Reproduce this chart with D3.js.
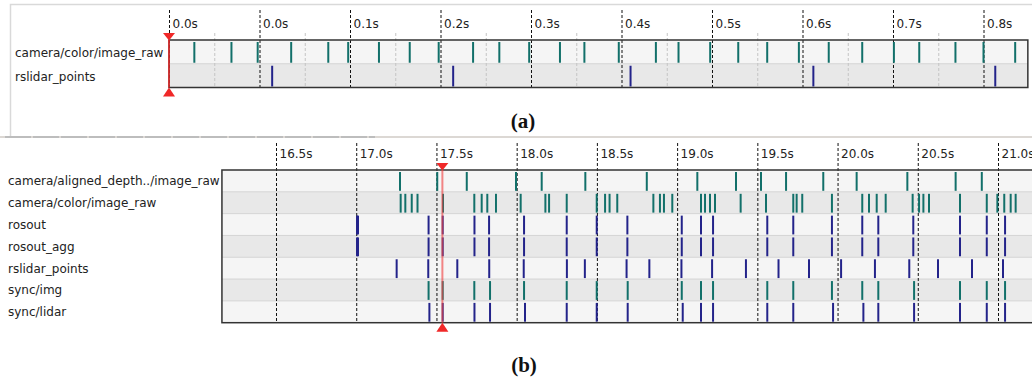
<!DOCTYPE html>
<html>
<head>
<meta charset="utf-8">
<script src="https://cdn.jsdelivr.net/npm/d3@7"></script>
<style>
  body { margin: 0; background: #fff; }
  svg { display: block; font-family: "DejaVu Sans", sans-serif; }
</style>
</head>
<body>
<svg id="chart" width="1032" height="385"></svg>
<script>
// ---- panel (a): short window at the start of the bag ----
const topicsA = ["camera/color/image_raw", "rslidar_points"];
const tickTimesA = [0, 0.1, 0.2, 0.3, 0.4, 0.5, 0.6, 0.7, 0.8, 0.9];
const tickLabelsA = ["0.0s", "0.0s", "0.1s", "0.2s", "0.3s", "0.4s", "0.5s", "0.6s", "0.7s", "0.8s"];
const minorTimesA = [0.05, 0.15, 0.25, 0.35, 0.45, 0.55, 0.65, 0.75, 0.85];
const colorTimesA = [0.028, 0.069, 0.098, 0.135, 0.176, 0.198, 0.232, 0.266, 0.298, 0.336,
  0.365, 0.398, 0.432, 0.459, 0.497, 0.538, 0.563, 0.598, 0.629, 0.661, 0.696, 0.729,
  0.766, 0.801, 0.829, 0.869, 0.900, 0.935];
const lidarTimesA = [0.114, 0.314, 0.510, 0.712, 0.913];
const playheadA = 0;

// ---- panel (b): 16.5s .. 21s ----
const topicsB = ["camera/aligned_depth../image_raw", "camera/color/image_raw", "rosout",
  "rosout_agg", "rslidar_points", "sync/img", "sync/lidar"];
const tickTimesB = [16.5, 17.0, 17.5, 18.0, 18.5, 19.0, 19.5, 20.0, 20.5, 21.0];
const tickLabelsB = ["16.5s", "17.0s", "17.5s", "18.0s", "18.5s", "19.0s", "19.5s", "20.0s", "20.5s", "21.0s"];
const depthTimesB = [17.273, 17.505, 17.689, 17.996, 18.156, 18.428, 18.811, 19.126, 19.367,
  19.523, 19.679, 19.911, 20.119, 20.435, 20.736, 20.899];
const colorTimesB = [17.277, 17.306, 17.346, 17.382, 17.541, 17.736, 17.782, 17.817, 17.871,
  18.025, 18.179, 18.202, 18.312, 18.499, 18.551, 18.579, 18.627, 18.852, 18.893, 18.918,
  18.970, 19.149, 19.174, 19.205, 19.236, 19.396, 19.554, 19.724, 19.745, 19.780, 19.965,
  20.154, 20.196, 20.244, 20.300, 20.468, 20.508, 20.535, 20.570, 20.763, 20.930, 20.996,
  21.039, 21.079, 21.110];
const rosoutTimesB = [17.005, 17.011, 17.451, 17.539, 17.737, 17.828, 18.046, 18.312, 18.499,
  18.690, 19.029, 19.149, 19.224, 19.562, 19.724, 19.965, 20.154, 20.254, 20.472, 20.763,
  20.930, 21.044];
const rosoutAggTimesB = [17.005, 17.011, 17.451, 17.539, 17.737, 17.828, 18.046, 18.312, 18.499,
  18.690, 19.029, 19.149, 19.224, 19.562, 19.724, 19.965, 20.154, 20.254, 20.472, 20.763,
  20.930, 21.044];
const lidarTimesB = [17.252, 17.449, 17.630, 17.829, 18.044, 18.313, 18.425, 18.685, 18.827,
  19.027, 19.218, 19.429, 19.632, 19.822, 20.022, 20.233, 20.447, 20.626, 20.838, 21.031];
const syncImgTimesB = [17.451, 17.539, 17.736, 17.834, 18.046, 18.312, 18.499, 18.692, 19.029,
  19.149, 19.224, 19.562, 19.724, 19.965, 20.154, 20.254, 20.477, 20.763, 20.930, 21.044];
const syncLidarTimesB = [17.456, 17.539, 17.737, 17.834, 18.052, 18.312, 18.499, 18.692, 19.035,
  19.149, 19.224, 19.562, 19.724, 19.972, 20.161, 20.254, 20.477, 20.763, 20.930, 21.044];
const playheadB = 17.537;

const TEAL = "#12706a";
const NAVY = "#23238a";
const svg = d3.select("#chart");

// screenshot frame around (a) and the split line
svg.append("path").attr("d", "M10.5,137 V4.5 H1032").attr("fill", "none")
  .attr("stroke", "#d9d9d9").attr("stroke-width", 1.5);
svg.append("line").attr("x1", 0).attr("x2", 1032).attr("y1", 137).attr("y2", 137)
  .attr("stroke", "#dcd8d4").attr("stroke-width", 2);
svg.append("line").attr("x1", 5).attr("x2", 375).attr("y1", 137).attr("y2", 137)
  .attr("stroke", "#bdbdbd").attr("stroke-width", 2).attr("stroke-dasharray", "26,2");

function drawPanel(p) {
  const g = svg.append("g");
  const x = p.x;
  const left = x(p.domain[0]), right = x(p.domain[1]);
  const y = d3.scaleBand().domain(p.topics).range([p.top, p.bottom]);

  // row stripes
  g.selectAll("rect.row").data(p.topics).join("rect")
    .attr("x", left).attr("y", d => y(d))
    .attr("width", right - left).attr("height", y.bandwidth())
    .attr("fill", (d, i) => i % 2 ? "#e8e8e8" : "#f5f5f5");
  g.selectAll("line.sep").data(p.topics.slice(1)).join("line")
    .attr("x1", left).attr("x2", right)
    .attr("y1", d => y(d)).attr("y2", d => y(d))
    .attr("stroke", "#d4d4d4");

  // light minor grid
  g.selectAll("line.minor").data(p.minor || []).join("line")
    .attr("x1", d => x(d) + 0.5).attr("x2", d => x(d) + 0.5)
    .attr("y1", p.top - 7).attr("y2", p.bottom)
    .attr("stroke", "#c4c4c4").attr("stroke-dasharray", "3,2");

  // time axis with dashed grid lines
  const axis = d3.axisTop(x)
    .tickValues(p.tickTimes)
    .tickFormat((d, i) => p.tickLabels[i])
    .tickSize(-(p.gridBottom - p.gridTop))
    .tickPadding(0);
  const ag = g.append("g").attr("transform", `translate(0,${p.gridTop})`).call(axis);
  ag.attr("font-family", null).attr("font-size", null);
  ag.select(".domain").remove();
  ag.selectAll(".tick line").attr("stroke", "#111").attr("stroke-dasharray", "3,2");
  ag.selectAll(".tick text")
    .attr("x", 3).attr("y", p.labelBase - p.gridTop).attr("dy", null)
    .attr("text-anchor", "start").attr("font-size", 12).attr("fill", "#222");

  // message marks
  p.topics.forEach((topic, i) => {
    g.append("g").selectAll("line").data(p.series[i]).join("line")
      .attr("x1", d => x(d)).attr("x2", d => x(d))
      .attr("y1", y(topic) + 2).attr("y2", y(topic) + y.bandwidth() - 1)
      .attr("stroke", p.colors[i]).attr("stroke-width", 2);
  });

  // outer border
  g.append("rect").attr("x", left).attr("y", p.top)
    .attr("width", right - left).attr("height", p.bottom - p.top)
    .attr("fill", "none").attr("stroke", "#333").attr("stroke-width", 1.5);

  // topic names
  g.selectAll("text.topic").data(p.topics).join("text")
    .attr("x", p.labelX).attr("y", d => y(d) + y.bandwidth() / 2 + p.labelShift)
    .attr("font-size", 12).attr("fill", "#222").text(d => d);

  // playhead
  const px = x(p.playhead);
  g.append("line").attr("x1", px).attr("x2", px).attr("y1", p.top).attr("y2", p.bottom)
    .attr("stroke", p.playheadColor).attr("stroke-width", p.playheadWidth);
  g.append("path")
    .attr("d", `M${px - 6},${p.top - 7}H${px + 6}L${px},${p.top + 0.5}Z`)
    .attr("fill", "#f02828");
  g.append("path")
    .attr("d", `M${px},${p.bottom}L${px - 6},${p.bottom + 9}H${px + 6}Z`)
    .attr("fill", "#f02828");
}

const xA = d3.scaleLinear().domain([0, 0.9]).range([169, 983.5]);
drawPanel({
  x: xA, domain: [0, 0.949], topics: topicsA,
  series: [colorTimesA, lidarTimesA], colors: [TEAL, NAVY],
  top: 40, bottom: 87.5, gridTop: 10, gridBottom: 90, labelBase: 28,
  tickTimes: tickTimesA, tickLabels: tickLabelsA, minor: minorTimesA,
  labelX: 15, labelShift: 5, playhead: playheadA,
  playheadColor: "#f02828", playheadWidth: 1.5
});

const xB = d3.scaleLinear().domain([16.5, 21.0]).range([276, 998]);
drawPanel({
  x: xB, domain: [16.163, 21.3], topics: topicsB,
  series: [depthTimesB, colorTimesB, rosoutTimesB, rosoutAggTimesB, lidarTimesB, syncImgTimesB, syncLidarTimesB],
  colors: [TEAL, TEAL, NAVY, NAVY, NAVY, TEAL, NAVY],
  top: 170, bottom: 322.7, gridTop: 143, gridBottom: 323, labelBase: 158,
  tickTimes: tickTimesB, tickLabels: tickLabelsB, minor: [],
  labelX: 8, labelShift: 4.5, playhead: playheadB,
  playheadColor: "rgba(240,70,70,0.65)", playheadWidth: 2
});

// captions
svg.append("text").attr("x", 523).attr("y", 128).attr("text-anchor", "middle")
  .attr("font-family", "'Liberation Serif', serif").attr("font-weight", "bold")
  .attr("font-size", 21).attr("fill", "#111").text("(a)");
svg.append("text").attr("x", 524).attr("y", 372).attr("text-anchor", "middle")
  .attr("font-family", "'Liberation Serif', serif").attr("font-weight", "bold")
  .attr("font-size", 21).attr("fill", "#111").text("(b)");
</script>
</body>
</html>
